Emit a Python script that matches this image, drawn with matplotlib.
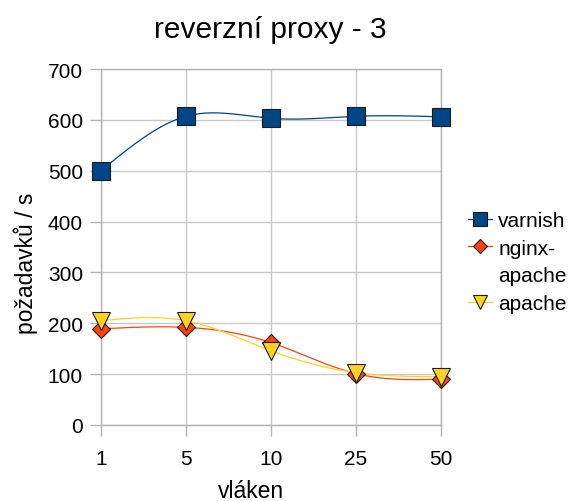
import numpy as np
import matplotlib
matplotlib.use("Agg")
import matplotlib.pyplot as plt
from matplotlib.lines import Line2D

plt.rcParams['font.family'] = ['Liberation Sans', 'DejaVu Sans']

# data
categories = ['1', '5', '10', '25', '50']
varnish = [500, 607, 603, 607, 606]
nginx_apache = [189, 192, 162, 101, 90]
apache = [205, 205, 146, 103, 95]


def natural_spline(y, n=300):
    # natural cubic spline through points at x = 0..len(y)-1 (smooth line like the original)
    y = np.asarray(y, dtype=float)
    k = len(y)
    A = np.zeros((k, k))
    b = np.zeros(k)
    A[0, 0] = A[-1, -1] = 1
    for i in range(1, k - 1):
        A[i, i - 1] = 1
        A[i, i] = 4
        A[i, i + 1] = 1
        b[i] = 6 * (y[i + 1] - 2 * y[i] + y[i - 1])
    M = np.linalg.solve(A, b)
    xs = np.linspace(0, k - 1, n)
    idx = np.clip(np.floor(xs).astype(int), 0, k - 2)
    t = xs - idx
    ys = ((1 - t) * y[idx] + t * y[idx + 1]
          + ((1 - t) ** 3 - (1 - t)) * M[idx] / 6
          + (t ** 3 - t) * M[idx + 1] / 6)
    return xs, ys


fig = plt.figure(figsize=(5.75, 5.02), dpi=100)
ax = fig.add_axes([101 / 575, 76 / 502, 340 / 575, 356 / 502])

grid_col = '#c8c8c8'
axis_col = '#b3b3b3'
edge = '#1a1a1a'
series = [
    ('varnish', varnish, '#004586', 's', 12.5),
    ('nginx-apache', nginx_apache, '#ff420e', 'D', 9.5),
    ('apache', apache, '#ffd320', 'v', 13),
]

handles = []
xpos = np.arange(len(categories))
for i, (name, vals, col, mk, ms) in enumerate(series):
    xs, ys = natural_spline(vals)
    ax.plot(xs, ys, color=col, lw=0.9, zorder=3 + i, clip_on=False)
    ax.plot(xpos, vals, ls='none', marker=mk, ms=ms, mfc=col, mec=edge,
            mew=0.8, zorder=6 + i, clip_on=False)
    handles.append(Line2D([], [], color=col, lw=0.9, marker=mk, ms=ms * 0.8,
                          mfc=col, mec=edge, mew=0.8))

ax.set_xlim(0, len(categories) - 1)
ax.set_ylim(0, 700)
ax.set_xticks(xpos)
ax.set_xticklabels(categories)
ax.set_yticks(range(0, 701, 100))
ax.grid(True, color=grid_col, lw=1.0, zorder=0)
for s in ax.spines.values():
    s.set_color(axis_col)
    s.set_linewidth(1.0)
ax.tick_params(axis='both', colors=axis_col, length=8, width=1.0, labelsize=15,
               labelcolor='black')
ax.tick_params(axis='y', pad=5)
ax.tick_params(axis='x', pad=9)

fig.text(270 / 575, 464 / 502, 'reverzní proxy - 3', fontsize=21.5,
         ha='center', va='baseline')
fig.text(251 / 575, 4 / 502, 'vláken', fontsize=16.5, ha='center', va='baseline')
fig.text(26 / 575, 239 / 502, 'požadavků / s', fontsize=16.5, rotation=90,
         ha='center', va='center')

blank = Line2D([], [], ls='none', marker='none')
leg_handles = [handles[0], handles[1], blank, handles[2]]
leg_labels = ['varnish', 'nginx-', 'apache', 'apache']
fig.legend(leg_handles, leg_labels, loc='upper left',
           bbox_to_anchor=(468 / 575, 290 / 502), frameon=False, fontsize=15,
           handlelength=1.15, handletextpad=0.3, labelspacing=0.42,
           borderaxespad=0, borderpad=0)

fig.savefig('out.png', dpi=100)
